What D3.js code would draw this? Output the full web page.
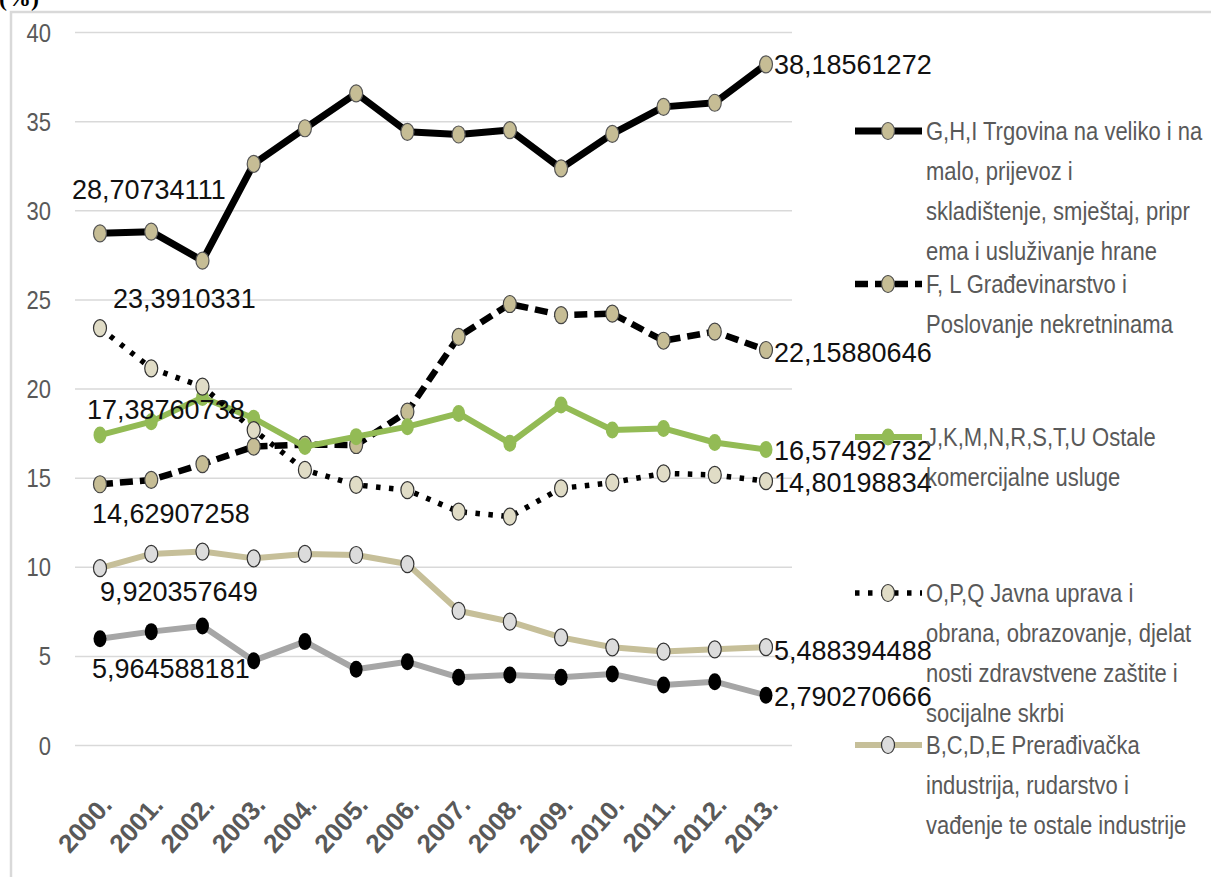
<!DOCTYPE html>
<html>
<head>
<meta charset="utf-8">
<script src="https://cdn.jsdelivr.net/npm/d3@7"></script>
<style>
  body { margin: 0; background: #fff; }
  svg { display: block; }
</style>
</head>
<body>
<script>
// Data
var years = ['2000.', '2001.', '2002.', '2003.', '2004.', '2005.', '2006.', '2007.', '2008.', '2009.', '2010.', '2011.', '2012.', '2013.'];
var yTicks = [0, 5, 10, 15, 20, 25, 30, 35, 40];

var trgovina = [28.70734111, 28.8, 27.17, 32.6, 34.6, 36.56, 34.4, 34.25, 34.5, 32.35, 34.28, 35.8, 36.03, 38.18561272];
var gradjevinarstvo = [14.62907258, 14.87, 15.76, 16.74, 16.85, 16.83, 18.7, 22.9, 24.74, 24.12, 24.2, 22.68, 23.19, 22.15880646];
var ostaleUsluge = [17.38760738, 18.14, 19.5, 18.33, 16.74, 17.3, 17.86, 18.6, 16.93, 19.07, 17.67, 17.76, 16.97, 16.57492732];
var javnaUprava = [23.3910331, 21.13, 20.1, 17.67, 15.43, 14.59, 14.3, 13.09, 12.81, 14.4, 14.72, 15.24, 15.15, 14.80198834];
var preradjivacka = [9.920357649, 10.72, 10.85, 10.47, 10.72, 10.66, 10.15, 7.53, 6.92, 6.04, 5.48, 5.24, 5.37, 5.488394488];
var poljoprivreda = [5.964588181, 6.36, 6.68, 4.73, 5.8, 4.25, 4.67, 3.8, 3.93, 3.8, 3.98, 3.37, 3.55, 2.790270666];

var legendGHI = ['G,H,I Trgovina na veliko i na', 'malo, prijevoz i', 'skladištenje, smještaj, pripr', 'ema i usluživanje hrane'];
var legendFL = ['F, L Građevinarstvo i', 'Poslovanje nekretninama'];
var legendJK = ['J,K,M,N,R,S,T,U Ostale', 'komercijalne usluge'];
var legendOPQ = ['O,P,Q Javna uprava i', 'obrana, obrazovanje, djelat', 'nosti zdravstvene zaštite i', 'socijalne skrbi'];
var legendBCDE = ['B,C,D,E Prerađivačka', 'industrija, rudarstvo i', 'vađenje te ostale industrije'];

// series styles (drawing order = Excel series order)
var series = [
  {values: trgovina, line: '#000', width: 7, dash: null, fill: '#c6bd95', stroke: '#555', legend: legendGHI, ly: 131,
   first: [-28, -44], last: [8, 0]},
  {values: gradjevinarstvo, line: '#000', width: 6.5, dash: '13,7', fill: '#c6bd95', stroke: '#444', legend: legendFL, ly: 284,
   first: [-8, 29], last: [8, 2]},
  {values: ostaleUsluge, line: '#93bb55', width: 6, dash: null, fill: '#93bb55', stroke: 'none', legend: legendJK, ly: 437,
   first: [-13, -26], last: [8, 1]},
  {values: javnaUprava, line: '#000', width: 5.5, dash: '4.5,8.5', fill: '#e0dcc6', stroke: '#333', legend: legendOPQ, ly: 593,
   first: [13, -30], last: [8, 1]},
  {values: preradjivacka, line: '#c6bf99', width: 6, dash: null, fill: '#dcdcdc', stroke: '#333', legend: legendBCDE, ly: 745,
   first: [0, 23], last: [8, 3]},
  {values: poljoprivreda, line: '#a6a6a6', width: 6, dash: null, fill: '#000', stroke: 'none', legend: null,
   first: [-8, 30], last: [8, 1]}
];

var W = 1211, H = 877;
var svg = d3.select('body').append('svg')
  .attr('width', W)
  .attr('height', H);

// frame
svg.append('rect')
  .attr('x', 11).attr('y', 12)
  .attr('width', W + 20).attr('height', H + 20)
  .attr('fill', 'none')
  .attr('stroke', '#d9d9d9')
  .attr('stroke-width', 2.5);

svg.append('text')
  .attr('x', -1).attr('y', 6)
  .style('font-family', "'Liberation Serif', serif")
  .style('font-weight', 'bold')
  .style('font-size', '24px')
  .text('(%)');

var xScale = d3.scalePoint().domain(years).range([100, 766]);
var yScale = d3.scaleLinear().domain([0, 40]).range([745, 32]);

// grid + y labels
var yAxis = d3.axisLeft(yScale)
  .tickValues(yTicks)
  .tickSize(-(792 - 75))
  .tickPadding(0)
  .tickFormat(d3.format('d'));

var gy = svg.append('g')
  .attr('transform', 'translate(75,0)')
  .call(yAxis);
gy.select('.domain').remove();
gy.selectAll('.tick line').attr('stroke', '#d9d9d9').attr('stroke-width', 1.5);
gy.selectAll('.tick text')
  .attr('x', 0)
  .attr('dy', '0.36em')
  .attr('transform', 'translate(-24,0) scale(0.88,1)')
  .attr('fill', '#595959')
  .style('font-family', "'Liberation Sans', Arial, sans-serif")
  .style('font-size', '25px');

// x labels
var xAxis = d3.axisBottom(xScale).tickSize(0).tickPadding(0);
var gx = svg.append('g')
  .attr('transform', 'translate(0,800)')
  .call(xAxis);
gx.select('.domain').remove();
gx.selectAll('.tick text')
  .attr('x', 0).attr('y', 0)
  .attr('dy', '0.35em')
  .attr('text-anchor', 'end')
  .attr('transform', 'translate(6,0) rotate(-48)')
  .attr('fill', '#595959')
  .style('font-family', "'Liberation Sans', Arial, sans-serif")
  .style('font-weight', 'bold')
  .style('font-size', '26px');

var line = d3.line()
  .x(function(d, i) { return xScale(years[i]); })
  .y(function(d) { return yScale(d); });

series.forEach(function(s) {
  var g = svg.append('g');
  g.append('path')
    .datum(s.values)
    .attr('d', line)
    .attr('fill', 'none')
    .attr('stroke', s.line)
    .attr('stroke-width', s.width)
    .attr('stroke-linejoin', 'round')
    .attr('stroke-dasharray', s.dash);
  g.selectAll('ellipse')
    .data(s.values)
    .enter().append('ellipse')
    .attr('cx', function(d, i) { return xScale(years[i]); })
    .attr('cy', function(d) { return yScale(d); })
    .attr('rx', 6.5)
    .attr('ry', 8.5)
    .attr('fill', s.fill)
    .attr('stroke', s.stroke)
    .attr('stroke-width', 1.2);
});

// data labels
function fmt(v) { return String(v).replace('.', ','); }
var labels = svg.append('g')
  .style('font-family', "'Liberation Sans', Arial, sans-serif")
  .style('font-size', '27px')
  .attr('fill', '#111');
series.forEach(function(s) {
  var n = s.values.length - 1;
  labels.append('text')
    .attr('x', xScale(years[0]) + s.first[0])
    .attr('y', yScale(s.values[0]) + s.first[1])
    .attr('dy', '0.36em')
    .text(fmt(s.values[0]));
  labels.append('text')
    .attr('x', xScale(years[n]) + s.last[0])
    .attr('y', yScale(s.values[n]) + s.last[1])
    .attr('dy', '0.36em')
    .text(fmt(s.values[n]));
});

// legend
var legend = svg.append('g');
series.filter(function(s) { return s.legend; }).forEach(function(s) {
  var lg = legend.append('g').attr('transform', 'translate(0,' + s.ly + ')');
  lg.append('line')
    .attr('x1', 855).attr('x2', 922)
    .attr('y1', 0).attr('y2', 0)
    .attr('stroke', s.line)
    .attr('stroke-width', s.width)
    .attr('stroke-dasharray', s.dash);
  lg.append('ellipse')
    .attr('cx', 888).attr('cy', 0)
    .attr('rx', 6.5).attr('ry', 8.5)
    .attr('fill', s.fill)
    .attr('stroke', s.stroke)
    .attr('stroke-width', 1.2);
  s.legend.forEach(function(t, i) {
    lg.append('text')
      .attr('transform', 'translate(926,' + (9 + i * 40) + ') scale(0.88,1)')
      .attr('fill', '#595959')
      .style('font-family', "'Liberation Sans', Arial, sans-serif")
      .style('font-size', '25px')
      .text(t);
  });
});
</script>
</body>
</html>
